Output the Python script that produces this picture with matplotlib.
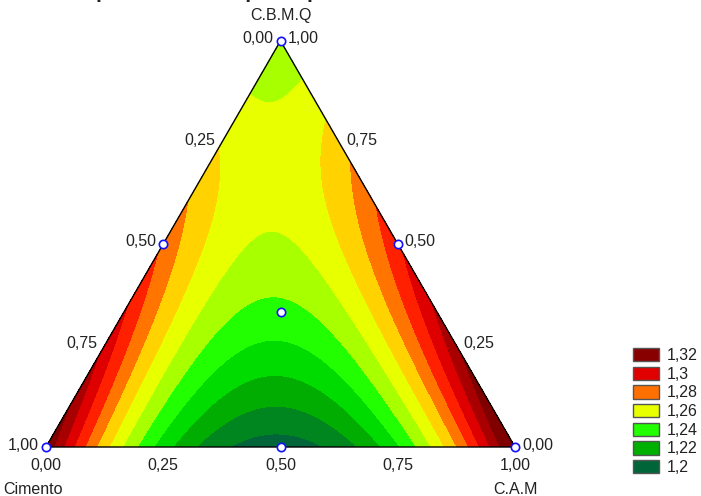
import numpy as np
import matplotlib
matplotlib.use("Agg")
import matplotlib.pyplot as plt
import matplotlib.tri as mtri
from matplotlib.patches import Patch

plt.rcParams['font.family'] = ['Liberation Sans', 'DejaVu Sans']

# Simplex-centroid design: fractions of Cimento, C.A.M and C.B.M.Q and measured response
cimento = [1, 0, 0, 0.5, 0.5, 0, 1/3]
cam = [0, 1, 0, 0.5, 0, 0.5, 1/3]
cbmq = [0, 0, 1, 0, 0.5, 0.5, 1/3]
resposta = [1.318, 1.326, 1.2403, 1.195, 1.278, 1.288, 1.237]

# contour bands (lower bound of each band, Statistica style palette)
levels = [1.20, 1.21, 1.22, 1.23, 1.24, 1.25, 1.26, 1.27, 1.28, 1.29, 1.30, 1.31]
band_colors = ['#00663A', '#00861E', '#00AD00', '#00DC00', '#22FF00', '#A8FF00',
               '#E8FF00', '#FFD200', '#FF7500', '#FF2000', '#DE0000', '#A80000', '#800000']

legend_labels = ['1,32', '1,3', '1,28', '1,26', '1,24', '1,22', '1,2']
legend_colors = ['#880000', '#E00000', '#FF7000', '#E8FF00', '#22FF00', '#00B000', '#00663A']

tick_values = [0.0, 0.25, 0.5, 0.75, 1.0]
tick_labels = ['0,00', '0,25', '0,50', '0,75', '1,00']

SQ3 = np.sqrt(3) / 2


def terms(x1, x2, x3):
    # special cubic Scheffe model
    return np.column_stack([x1, x2, x3, x1 * x2, x1 * x3, x2 * x3, x1 * x2 * x3])


def to_xy(x1, x2, x3):
    return x2 + x3 / 2, x3 * SQ3


x1d, x2d, x3d = np.array(cimento), np.array(cam), np.array(cbmq)
coef, *_ = np.linalg.lstsq(terms(x1d, x2d, x3d), np.array(resposta), rcond=None)

# fine barycentric grid over the triangle
n = 160
g1, g2 = [], []
for i in range(n + 1):
    for j in range(n + 1 - i):
        g1.append(i / n)
        g2.append(j / n)
g1 = np.array(g1)
g2 = np.array(g2)
g3 = np.clip(1 - g1 - g2, 0, 1)
z = terms(g1, g2, g3) @ coef
gx, gy = to_xy(g1, g2, g3)
tri = mtri.Triangulation(gx, gy)

fig = plt.figure(figsize=(7.01, 4.96), dpi=100)
ax = fig.add_axes([0, 0, 1, 1])
ax.set_xlim(-46 / 469, 655 / 469)
ax.set_ylim(-49 / 469, 447 / 469)
ax.axis('off')

ax.tricontourf(tri, z, levels=[0.0] + levels + [2.0], colors=band_colors)

# triangle outline
vx, vy = to_xy(np.array([1, 0, 0, 1]), np.array([0, 1, 0, 0]), np.array([0, 0, 1, 0]))
ax.plot(vx, vy, color='black', lw=1, solid_joinstyle='miter')

# design points
px, py = to_xy(x1d, x2d, x3d)
ax.plot(px, py, 'o', ms=6, mfc='white', mec='#1010FF', mew=1.2, clip_on=False)

fs = 11.5
for v, lab in zip(tick_values, tick_labels):
    # bottom: C.A.M fraction
    bx, by = to_xy(1 - v, v, 0)
    ax.annotate(lab, (bx, by), xytext=(0, -19), textcoords='offset pixels',
                ha='center', va='center', fontsize=fs, color='#222222')
    # left side: Cimento fraction
    lx, ly = to_xy(v, 0, 1 - v)
    ax.annotate(lab, (lx, ly), xytext=(-7, 2), textcoords='offset pixels',
                ha='right', va='center', fontsize=fs, color='#222222')
    # right side: C.B.M.Q fraction
    rx, ry = to_xy(0, 1 - v, v)
    ax.annotate(lab, (rx, ry), xytext=(7, 2), textcoords='offset pixels',
                ha='left', va='center', fontsize=fs, color='#222222')

ax.annotate('C.B.M.Q', to_xy(0, 0, 1), xytext=(0, 25), textcoords='offset pixels',
            ha='center', va='center', fontsize=fs, color='#222222')
ax.annotate('Cimento', to_xy(1, 0, 0), xytext=(-13, -42), textcoords='offset pixels',
            ha='center', va='center', fontsize=fs, color='#222222')
ax.annotate('C.A.M', to_xy(0, 1, 0), xytext=(1, -42), textcoords='offset pixels',
            ha='center', va='center', fontsize=fs, color='#222222')

fig.text(-40 / 701, 1 + 2 / 496, 'Gráfico da Superfície de Resposta para M.E.A',
         ha='left', va='baseline', fontsize=15, fontweight='bold', color='#222222')

handles = [Patch(facecolor=c, edgecolor='#555555', lw=1) for c in legend_colors]
ax.legend(handles, legend_labels, loc='upper left', bbox_to_anchor=(633 / 701, 1 - 348 / 496),
          bbox_transform=fig.transFigure, frameon=False, borderpad=0, borderaxespad=0,
          handlelength=1.6, handleheight=0.9, handletextpad=0.5, labelspacing=0.22,
          fontsize=fs, labelcolor='#222222')

fig.savefig('out.png', dpi=100)
